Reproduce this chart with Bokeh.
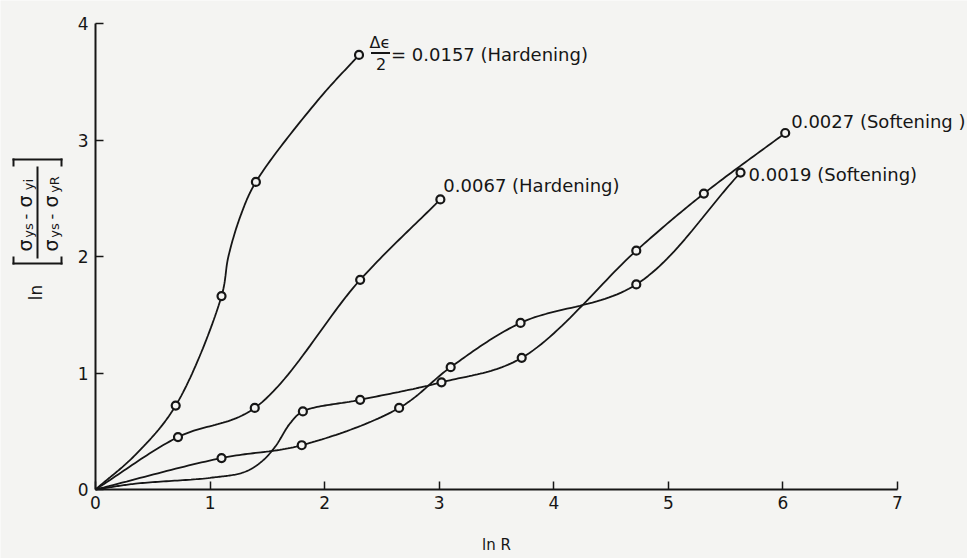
import numpy as np
from bokeh.plotting import figure
from bokeh.models import Label, BoxAnnotation, FixedTicker, Range1d
from bokeh.embed import file_html
from bokeh.resources import INLINE

# ---------------- data ----------------
# marked points of each curve (origin is the common start, not marked)
hard_0157_x = [0.70, 1.10, 1.40, 2.30]
hard_0157_y = [0.72, 1.66, 2.64, 3.73]
hard_0067_x = [0.72, 1.39, 2.31, 3.01]
hard_0067_y = [0.45, 0.70, 1.80, 2.49]
soft_0019_x = [1.10, 1.80, 2.65, 3.10, 3.71, 4.72, 5.63]
soft_0019_y = [0.27, 0.38, 0.70, 1.05, 1.43, 1.76, 2.72]
soft_0027_x = [1.81, 2.31, 3.02, 3.72, 4.72, 5.31, 6.02]
soft_0027_y = [0.67, 0.77, 0.92, 1.13, 2.05, 2.54, 3.06]

# unmarked points
trace_0157_x = [0.0, 0.35, 1.16, 1.27, 1.94]
trace_0157_y = [0.0, 0.30, 2.00, 2.36, 3.34]
trace_0067_x = [0.0]
trace_0067_y = [0.0]
trace_0019_x = [0.0]
trace_0019_y = [0.0]
trace_0027_x = [0.0, 0.35, 1.00, 1.30, 1.45, 1.57, 1.70]
trace_0027_y = [0.0, 0.05, 0.10, 0.15, 0.24, 0.37, 0.57]

series_labels = ["0.0157 (Hardening)", "0.0067 (Hardening)",
                 "0.0019 (Softening)", "0.0027 (Softening )"]
x_ticks = [0, 1, 2, 3, 4, 5, 6, 7]
y_ticks = [0, 1, 2, 3, 4]

BG = "#f4f4f2"
INK = "#161616"
FONT = "DejaVu Sans"

# plot-area geometry (pixels) -- the frame covers the whole canvas,
# the axes are pinned at data 0 and bounded to the data extent
AX0, AX1, AY0, AY1 = 95, 897, 489, 23
W, H = 967, 558
PXX = 7.0 / (AX1 - AX0)
PXY = 4.0 / (AY0 - AY1)


def dx(px):
    return (px - AX0) * PXX


def dy(py):
    return (AY0 - py) * PXY


def smooth(xs, ys, n=30):
    order = np.argsort(xs, kind="stable")
    P = np.column_stack([np.asarray(xs, float)[order], np.asarray(ys, float)[order]])
    P = np.vstack([2 * P[0] - P[1], P, 2 * P[-1] - P[-2]])
    out = [P[1]]
    for i in range(1, len(P) - 2):
        p0, p1, p2, p3 = P[i - 1], P[i], P[i + 1], P[i + 2]
        t0 = 0.0
        t1 = t0 + np.linalg.norm(p1 - p0) ** 0.5
        t2 = t1 + np.linalg.norm(p2 - p1) ** 0.5
        t3 = t2 + np.linalg.norm(p3 - p2) ** 0.5
        t = np.linspace(t1, t2, n)[1:, None]
        A1 = (t1 - t) / (t1 - t0) * p0 + (t - t0) / (t1 - t0) * p1
        A2 = (t2 - t) / (t2 - t1) * p1 + (t - t1) / (t2 - t1) * p2
        A3 = (t3 - t) / (t3 - t2) * p2 + (t - t2) / (t3 - t2) * p3
        B1 = (t2 - t) / (t2 - t0) * A1 + (t - t0) / (t2 - t0) * A2
        B2 = (t3 - t) / (t3 - t1) * A2 + (t - t1) / (t3 - t1) * A3
        C = (t2 - t) / (t2 - t1) * B1 + (t - t1) / (t2 - t1) * B2
        out.extend(C)
    arr = np.array(out)
    return arr[:, 0], arr[:, 1]


p = figure(width=W, height=H,
           x_range=Range1d(dx(0), dx(W)), y_range=Range1d(dy(H), dy(0)),
           output_backend="svg", toolbar_location=None,
           min_border_left=0, min_border_right=0,
           min_border_top=0, min_border_bottom=0,
           background_fill_color=BG, border_fill_color=BG)
p.outline_line_color = None
p.grid.visible = False

for ax, ticks, top in ((p.xaxis[0], x_ticks, 7), (p.yaxis[0], y_ticks, 4)):
    ax.fixed_location = 0
    ax.bounds = (0, top)
    ax.ticker = FixedTicker(ticks=ticks)
    ax.axis_line_width = 2
    ax.axis_line_color = INK
    ax.major_tick_in = 8
    ax.major_tick_out = 0
    ax.major_tick_line_width = 1.5
    ax.major_tick_line_color = INK
    ax.minor_tick_line_color = None
    ax.major_label_text_font = FONT
    ax.major_label_text_font_size = "17px"
    ax.major_label_text_color = INK

p.xaxis.major_label_standoff = 6
p.yaxis.major_label_standoff = 7
p.xaxis.axis_label = "ln R"
p.xaxis.axis_label_text_font = FONT
p.xaxis.axis_label_text_font_style = "normal"
p.xaxis.axis_label_text_font_size = "15px"
p.xaxis.axis_label_text_color = INK
p.xaxis.axis_label_standoff = 24

curves = [
    (hard_0157_x, hard_0157_y, trace_0157_x, trace_0157_y),
    (hard_0067_x, hard_0067_y, trace_0067_x, trace_0067_y),
    (soft_0019_x, soft_0019_y, trace_0019_x, trace_0019_y),
    (soft_0027_x, soft_0027_y, trace_0027_x, trace_0027_y),
]
for mx, my, tx, ty in curves:
    sx, sy = smooth(list(mx) + list(tx), list(my) + list(ty))
    p.line(sx, sy, line_color=INK, line_width=1.8)
for mx, my, tx, ty in curves:
    p.scatter(mx, my, marker="circle", size=8, fill_color=BG,
              line_color=INK, line_width=2.2)


def add_label(x, y, text, size="18px", align="left", angle=0.0):
    p.add_layout(Label(x=x, y=y, text=text, text_font=FONT,
                       text_font_size=size, text_color=INK,
                       text_align=align, text_baseline="middle",
                       angle=angle))


def add_box(l, r, t, b):
    p.add_layout(BoxAnnotation(left=dx(l), right=dx(r), top=dy(t), bottom=dy(b),
                               fill_color=INK, fill_alpha=1.0,
                               line_color=None, level="overlay"))


# series labels, placed relative to each curve's last marked point (pixel offsets)
def off(xe, ye, ox, oy):
    return xe + ox * PXX, ye - oy * PXY


xe, ye = hard_0157_x[-1], hard_0157_y[-1]
add_label(*off(xe, ye, 21, -12), "Δϵ", size="16px", align="center")
add_label(*off(xe, ye, 22, 9), "2", size="16px", align="center")
bx, by = off(xe, ye, 12, -2)
p.add_layout(BoxAnnotation(left=bx, right=bx + 19 * PXX, top=by + 1 * PXY,
                           bottom=by - 1 * PXY, fill_color=INK, fill_alpha=1,
                           line_color=None))
add_label(*off(xe, ye, 32, 0), "= " + series_labels[0])

add_label(*off(hard_0067_x[-1], hard_0067_y[-1], 3, -14), series_labels[1])
add_label(*off(soft_0019_x[-1], soft_0019_y[-1], 8, 2), series_labels[2])
add_label(*off(soft_0027_x[-1], soft_0027_y[-1], 6, -12), series_labels[3])

# y-axis label: ln [ (σys - σyi) / (σys - σyR) ], drawn rotated
ROT = np.pi / 2
for cx, last in ((24, "yi"), (50, "yR")):
    add_label(dx(cx), dy(245), "σ", size="19px", align="center", angle=ROT)
    add_label(dx(cx + 4), dy(230), "ys", size="13px", align="center", angle=ROT)
    add_label(dx(cx), dy(216), "-", size="16px", align="center", angle=ROT)
    add_label(dx(cx), dy(201), "σ", size="19px", align="center", angle=ROT)
    add_label(dx(cx + 4), dy(184), last, size="13px", align="center", angle=ROT)
add_label(dx(35), dy(292), "ln", size="17px", align="center", angle=ROT)
add_box(36, 38, 166, 258)          # fraction bar
add_box(12, 62, 158, 160)          # closing bracket (top)
add_box(12, 14, 158, 166)
add_box(60, 62, 158, 166)
add_box(12, 62, 262, 264)          # opening bracket (bottom)
add_box(12, 14, 256, 264)
add_box(60, 62, 256, 264)

open("out.html", "w").write(file_html(p, INLINE))
